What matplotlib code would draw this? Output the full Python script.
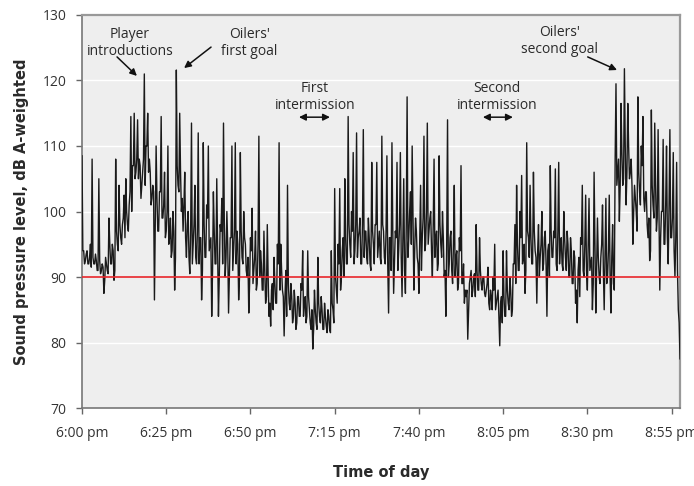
import numpy as np
import matplotlib
matplotlib.use("Agg")
import matplotlib.pyplot as plt

# Sound pressure level (dB A-weighted): spike/trough readings every 0.5 min from 6:00 pm
spl_600_630 = [108.5, 94, 92.5, 94, 92, 95, 108, 92, 93.5, 91, 105, 90.5, 92, 87.5, 93, 91,
               99, 92, 95, 89.5, 108, 95, 104, 96, 98, 102.5, 105, 98, 101, 114.5, 107, 115,
               106, 114, 108, 102, 106, 121, 110, 115, 108, 101, 104, 86.5, 110, 97, 103, 114.5,
               99, 106, 97, 110, 96, 93, 100, 88, 121.6, 104, 115, 100]
spl_630_700 = [97, 106, 93, 100, 90.5, 113.5, 95, 104, 92, 112, 96, 86.5, 110.5, 93, 101, 110,
               95, 84, 103, 92, 105, 84, 98, 102, 113.5, 90, 100, 84.5, 96, 110, 94, 110.5,
               97, 86.5, 109, 93, 100, 95, 90, 84.5, 96, 100.5, 91, 97, 89, 111.5, 94, 88,
               97, 86, 98, 84, 82.5, 89, 93, 86, 95, 110.5, 95, 88]
spl_700_730 = [81, 91, 104, 86, 89, 83, 88, 82, 87, 84, 89, 94, 86, 83, 94, 85,
               82, 79, 88, 83, 93, 84, 87, 82, 86, 82.5, 85, 82, 94, 85, 103.5, 88,
               95, 103.5, 90, 96, 105, 92, 114.5, 95, 100, 109, 94, 112, 96, 99, 92, 112.5,
               97, 93, 99, 92, 107.5, 95, 98, 107.5, 95, 93, 111.5, 97]
spl_730_800 = [92, 108.5, 84.5, 96, 110.5, 87.5, 97, 107.5, 94, 109, 87, 105, 87.5, 117.5, 96, 103,
               110, 88, 99, 93, 87.5, 104, 96, 111.5, 95, 113.5, 97, 100, 90, 108, 96, 91,
               108.5, 95, 100, 90, 84, 114, 92, 97, 89, 104, 93, 88, 96, 107, 89, 86,
               87, 80.5, 89, 91, 88, 90.5, 98, 88, 96, 89, 90, 87.5]
spl_800_830 = [88, 91.5, 85, 87, 90, 95, 86, 88, 79.5, 87, 94, 84, 94, 86, 90, 84,
               92, 98, 104, 91, 100, 105.5, 93, 87.5, 110.5, 96, 104, 92, 106, 94, 86, 98,
               93, 100, 92, 97, 84, 95, 107, 93, 97, 106.5, 91, 107.5, 95, 92, 100, 93,
               97, 90, 96, 89, 94, 86, 83, 93, 96, 104, 90, 102.5]
spl_830_858 = [88, 102, 92, 85, 106, 84.5, 99, 90, 93, 101, 85, 102, 90, 102.5, 84.5, 98,
               88, 119.5, 106, 98.5, 116.5, 104, 121.8, 101, 116.5, 105, 108, 95, 104, 100, 117.5, 103,
               110, 114.5, 100, 103, 96, 92.5, 115.5, 101, 113.5, 97, 112.5, 88, 100, 111, 95, 110,
               92, 112.5, 96, 109, 90, 107.5, 85, 77.5]

# Dense core of the trace, upper edge (minute + 0.25)
core_hi_600_630 = [94, 93.5, 93, 93, 92.5, 92.5, 91.5, 92, 95, 94, 97, 98, 99, 100, 103,
                   107, 108, 107, 108, 110, 106, 103, 102, 103, 101, 100, 99, 97, 107, 106]
core_hi_630_700 = [101, 98, 97, 98, 97, 96, 98, 99, 96, 97, 95, 97, 98, 95, 96,
                   97, 95, 97, 96, 93, 94, 93, 95, 92, 91, 90, 88, 89, 92, 91]
core_hi_700_730 = [87, 89, 87, 86, 87, 88, 87, 87, 85, 85, 86, 85, 84, 84, 86,
                   90, 92, 94, 96, 98, 97, 98, 97, 98, 97, 96, 97, 98, 97, 98]
core_hi_730_800 = [97, 96, 97, 96, 98, 96, 98, 100, 99, 97, 96, 99, 100, 99, 98,
                   97, 98, 96, 95, 96, 95, 94, 94, 92, 88, 90, 90, 91, 91, 90]
core_hi_800_830 = [89, 88, 88, 87, 86, 87, 88, 88, 92, 95, 96, 95, 97, 96, 97,
                   94, 95, 96, 94, 97, 96, 97, 96, 96, 95, 94, 93, 91, 95, 95]
core_hi_830_858 = [95, 93, 95, 93, 95, 93, 94, 93, 108, 108, 109, 110, 110, 104, 102,
                   106, 107, 103, 99, 104, 104, 101, 100, 101, 101, 99, 96, 83]

# Dense core of the trace, lower edge (minute + 0.75)
core_lo_600_630 = [92, 92, 91.5, 92, 91, 91, 89.5, 90.5, 92, 91, 94, 95, 96, 97, 100,
                   105, 105, 104, 104, 106, 102, 98, 97, 99, 96, 95, 94, 93, 103, 102]
core_lo_630_700 = [96, 93, 92, 93, 92, 91, 93, 94, 91, 92, 90, 92, 93, 90, 91,
                   92, 90, 92, 91, 89, 89, 88, 90, 88, 87, 86, 85, 86, 88, 87]
core_lo_700_730 = [84, 85, 84, 83, 84, 84, 84, 83, 82, 82, 83, 82, 81.5, 81.5, 83,
                   86, 88, 90, 92, 93, 92, 93, 92, 93, 92, 91, 92, 93, 92, 93]
core_lo_730_800 = [92, 91, 92, 91, 93, 91, 93, 95, 94, 92, 91, 94, 95, 94, 93,
                   92, 93, 91, 90, 91, 90, 89, 89, 88, 85, 87, 87, 88, 88, 87]
core_lo_800_830 = [86, 85, 85, 84, 83, 84, 85, 85, 89, 91, 92, 91, 93, 92, 93,
                   90, 91, 92, 90, 93, 92, 92, 91, 91, 90, 89, 88, 87, 91, 91]
core_lo_830_858 = [91, 89, 91, 89, 91, 89, 90, 89, 104, 104, 105, 106, 106, 100, 97,
                   101, 102, 98, 94, 99, 99, 96, 95, 96, 96, 94, 91, 80]

spl = np.array(spl_600_630 + spl_630_700 + spl_700_730 + spl_730_800 + spl_800_830 + spl_830_858)
core_hi = np.array(core_hi_600_630 + core_hi_630_700 + core_hi_700_730 + core_hi_730_800
                   + core_hi_800_830 + core_hi_830_858)
core_lo = np.array(core_lo_600_630 + core_lo_630_700 + core_lo_700_730 + core_lo_730_800
                   + core_lo_800_830 + core_lo_830_858)
t_spl = np.arange(len(spl)) * 0.5
t_hi = np.arange(len(core_hi)) * 1.0 + 0.25
t_lo = np.arange(len(core_lo)) * 1.0 + 0.75
t_all = np.concatenate([t_spl, t_hi, t_lo])
v_all = np.concatenate([spl, core_hi, core_lo])
keep = t_all <= 177.5
t_all, v_all = t_all[keep], v_all[keep]
order = np.argsort(t_all, kind="stable")
minutes, level = t_all[order], v_all[order]

tick_minutes = [0, 25, 50, 75, 100, 125, 150, 175]
tick_labels = ["6:00 pm", "6:25 pm", "6:50 pm", "7:15 pm", "7:40 pm", "8:05 pm", "8:30 pm", "8:55 pm"]
y_ticks = [70, 80, 90, 100, 110, 120, 130]
threshold_db = 90

fig = plt.figure(figsize=(6.94, 4.86), dpi=100)
ax = fig.add_axes([82/694, 1-408/486, (680-82)/694, (408-15)/486])
ax.set_facecolor("#eeeeee")

for g in [80, 100, 110, 120]:
    ax.axhline(g, color="white", lw=1.0, zorder=1)

ax.plot(minutes, level, color="#1a1a1a", lw=1.0, zorder=3)
ax.axhline(threshold_db, color="#e8262b", lw=1.2, zorder=4)

ax.set_xlim(0, 177.5)
ax.set_ylim(70, 130)
ax.set_xticks(tick_minutes)
ax.set_xticklabels(tick_labels, fontsize=10, family="Open Sans", color="#333333")
ax.set_yticks(y_ticks)
ax.set_yticklabels([str(v) for v in y_ticks], fontsize=10, family="Open Sans", color="#333333")
ax.tick_params(axis="both", direction="out", length=4, width=1, color="#666666")
ax.tick_params(axis="x", pad=9)
ax.tick_params(axis="y", pad=7)

for s in ["top", "right"]:
    ax.spines[s].set_color("#999999")
    ax.spines[s].set_linewidth(1.6)
for s in ["left", "bottom"]:
    ax.spines[s].set_color("#777777")
    ax.spines[s].set_linewidth(1.2)

ax.set_ylabel("Sound pressure level, dB A-weighted", fontsize=10.5, fontweight="bold",
              family="DejaVu Sans", color="#2a2a2a", labelpad=10)
ax.set_xlabel("Time of day", fontsize=10.5, fontweight="bold", family="DejaVu Sans",
              color="#2a2a2a", labelpad=17)

tkw = dict(fontsize=10, family="Open Sans", color="#2a2a2a", ha="center", va="center",
           linespacing=1.15, zorder=5)
akw = dict(arrowstyle="-|>", color="#111111", lw=1.1, mutation_scale=10, shrinkA=0, shrinkB=0)
dkw = dict(arrowstyle="<|-|>", color="#111111", lw=1.1, mutation_scale=10, shrinkA=0, shrinkB=0)

ax.text(14.2, 125.7, "Player\nintroductions", **tkw)
ax.annotate("", xy=(16.3, 120.7), xytext=(10.4, 123.6), arrowprops=akw)
ax.text(49.6, 125.7, "Oilers'\nfirst goal", **tkw)
ax.annotate("", xy=(30.3, 121.9), xytext=(38.3, 125.1), arrowprops=akw)
ax.text(141.8, 126.0, "Oilers'\nsecond goal", **tkw)
ax.annotate("", xy=(158.8, 121.6), xytext=(150.1, 123.6), arrowprops=akw)
ax.text(69.1, 117.5, "First\nintermission", **tkw)
ax.text(123.1, 117.5, "Second\nintermission", **tkw)
ax.annotate("", xy=(64.4, 114.4), xytext=(73.6, 114.4), arrowprops=dkw)
ax.annotate("", xy=(119.0, 114.4), xytext=(127.9, 114.4), arrowprops=dkw)

fig.savefig("out.png", dpi=100)
